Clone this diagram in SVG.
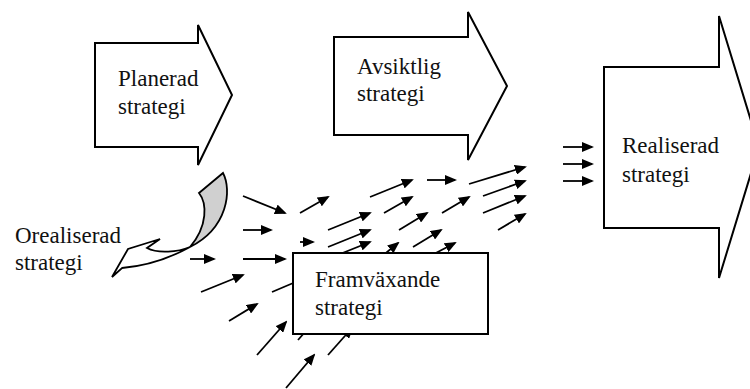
<svg xmlns="http://www.w3.org/2000/svg" width="750" height="389" viewBox="0 0 750 389">
<style>
.big{fill:#fff;stroke:#000;stroke-width:2;stroke-linejoin:miter}
.t{font-family:"Liberation Serif","Times New Roman",serif;font-size:23px;fill:#111}
.c line{stroke:#000;stroke-width:1.8;marker-end:url(#ah)}
</style>
<defs>
<marker id="ah" markerUnits="userSpaceOnUse" markerWidth="12" markerHeight="10" viewBox="0 0 12 10" refX="10" refY="5" orient="auto">
<path d="M0,0 L12,5 L0,10 Z" fill="#000"/>
</marker>
</defs>
<rect width="750" height="389" fill="#fff"/>
<g id="planerad">
<path class="big" d="M95,43 H198 V25 L232,95 L198,165 V147 H95 Z"/>
<text class="t" x="118" y="86">Planerad</text>
<text class="t" x="118" y="114">strategi</text>
</g>
<g id="avsiktlig">
<path class="big" d="M334,37 H468 V12 L507,86 L468,160 V135 H334 Z"/>
<text class="t" x="357" y="74">Avsiktlig</text>
<text class="t" x="357" y="101">strategi</text>
</g>
<g id="realiserad">
<path class="big" d="M604,67 H719 V16 L759,147 L719,278 V228 H604 Z"/>
<text class="t" x="622" y="153">Realiserad</text>
<text class="t" x="622" y="182">strategi</text>
</g>
<g id="orealiserad">
<path d="M190,247 C178,252 158,254 147,248 L160,239 L128,249 L112,277 L122,268 C145,266 170,258 190,247 Z" fill="#fff" stroke="#000" stroke-width="1.8" stroke-linejoin="miter"/>
<path d="M199,193 L223,173 C232,190 228,228 190,247 C208,226 207,203 199,193 Z" fill="#d0d0d0" stroke="#000" stroke-width="1.8"/>
<text class="t" x="15" y="243">Orealiserad</text>
<text class="t" x="15" y="270">strategi</text>
</g>
<g id="connectors" class="c">
<line x1="243" y1="196" x2="285" y2="213"/>
<line x1="243" y1="230" x2="271" y2="230"/>
<line x1="243" y1="259" x2="285" y2="259"/>
<line x1="190" y1="259" x2="214" y2="259"/>
<line x1="300" y1="213" x2="328" y2="197"/>
<line x1="300" y1="242" x2="313" y2="242"/>
<line x1="328" y1="230" x2="370" y2="213"/>
<line x1="328" y1="247" x2="370" y2="230"/>
<line x1="335" y1="256" x2="370" y2="242"/>
<line x1="370" y1="197" x2="412" y2="180"/>
<line x1="384" y1="213" x2="412" y2="197"/>
<line x1="427" y1="180" x2="455" y2="180"/>
<line x1="399" y1="230" x2="427" y2="213"/>
<line x1="375" y1="262" x2="398" y2="243"/>
<line x1="413" y1="247" x2="441" y2="230"/>
<line x1="432" y1="255" x2="455" y2="243"/>
<line x1="442" y1="213" x2="469" y2="197"/>
<line x1="469" y1="184" x2="525" y2="167"/>
<line x1="483" y1="196" x2="525" y2="181"/>
<line x1="483" y1="213" x2="525" y2="196"/>
<line x1="498" y1="230" x2="525" y2="214"/>
<line x1="201" y1="292" x2="243" y2="275"/>
<line x1="272" y1="292" x2="305" y2="278"/>
<line x1="229" y1="321" x2="257" y2="304"/>
<line x1="257" y1="355" x2="286" y2="322"/>
<line x1="286" y1="388" x2="314" y2="355"/>
<line x1="328" y1="355" x2="352" y2="328"/>
<line x1="298" y1="340" x2="312" y2="324"/>
<line x1="563" y1="147" x2="592" y2="147"/>
<line x1="563" y1="164" x2="592" y2="164"/>
<line x1="563" y1="181" x2="592" y2="181"/>
</g>
<g id="framvaxande">
<rect x="293" y="253" width="195" height="81" fill="#fff" stroke="#000" stroke-width="2"/>
<text class="t" x="315" y="287">Framväxande</text>
<text class="t" x="315" y="315">strategi</text>
</g>
</svg>
